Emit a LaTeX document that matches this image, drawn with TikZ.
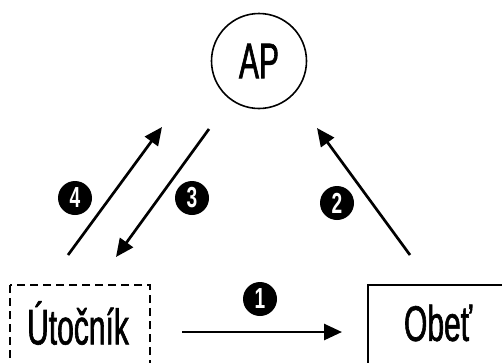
\documentclass[tikz,border=0pt]{standalone}
\usepackage{fontspec}
\newfontfamily\condfont[FakeStretch=0.6,FakeBold=1.2]{Liberation Sans}
\newfontfamily\numfont[FakeStretch=0.66]{Liberation Sans}
\usetikzlibrary{arrows.meta}
\tikzset{
  flow/.style={line width=2.7pt, -{Triangle[length=18pt,width=16pt]}},
  stepnum/.style={circle, fill=black, text=white, inner sep=0pt, minimum size=34pt,
    font=\numfont\bfseries\fontsize{29}{29}\selectfont},
  lbl/.style={font=\condfont\fontsize{50}{50}\selectfont}
}
\begin{document}
\begin{tikzpicture}[x=1pt,y=-1pt]
  \useasboundingbox (0,0) rectangle (502,362);
  \clip (0,0) rectangle (502,362);
  % access point
  \node[draw, circle, line width=1.6pt, minimum size=95pt, inner sep=0pt, lbl] (ap) at (259,61) {AP};
  % attacker and victim
  \draw[line width=1.4pt, dash pattern=on 8pt off 5pt] (10,285) rectangle (150,380);
  \node[lbl] (att) at (78,323) {Útočník};
  \draw[line width=1.4pt] (368,285) rectangle (510,380);
  \node[lbl] (vic) at (438,323) {Obeť};
  % connection endpoints
  \coordinate (a1s) at (182,332); \coordinate (a1e) at (342,332);
  \coordinate (a4s) at (68,255);  \coordinate (a4e) at (162,127);
  \coordinate (a3s) at (209,129); \coordinate (a3e) at (116,257);
  \coordinate (a2s) at (410,255); \coordinate (a2e) at (317,128);
  \draw[flow] (a1s) -- (a1e);
  \draw[flow] (a4s) -- (a4e);
  \draw[flow] (a3s) -- (a3e);
  \draw[flow] (a2s) -- (a2e);
  % step numbers
  \node[stepnum] (n1) at (260,299) {1};
  \node[stepnum] (n2) at (337,203) {2};
  \node[stepnum] (n3) at (192,198) {3};
  \node[stepnum] (n4) at (75,198) {4};
\end{tikzpicture}
\end{document}
